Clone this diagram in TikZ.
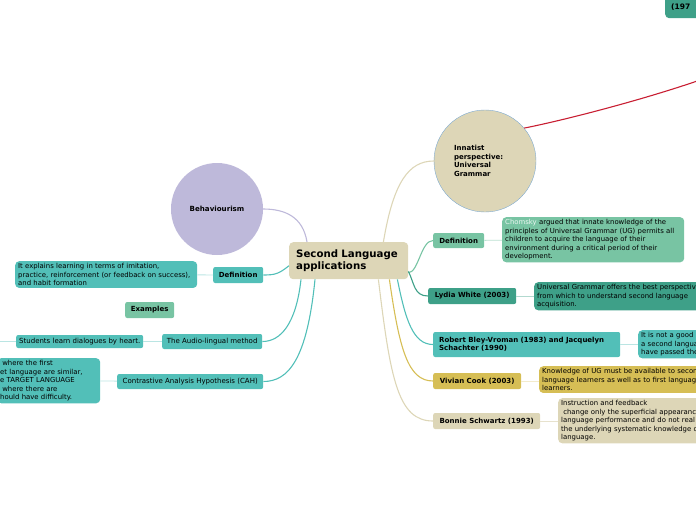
\documentclass[tikz,border=0pt]{standalone}
\usepackage{fontspec}
\setmainfont{DejaVu Sans}
\usetikzlibrary{positioning}
\definecolor{beige}{RGB}{221,214,183}
\definecolor{lavender}{RGB}{190,185,218}
\definecolor{tealc}{RGB}{82,191,184}
\definecolor{greenc}{RGB}{120,196,163}
\definecolor{dkgreen}{RGB}{62,160,136}
\definecolor{yellowc}{RGB}{214,190,85}
\definecolor{redc}{RGB}{200,30,50}
\definecolor{rimblue}{RGB}{125,170,210}
\hyphenpenalty=10000

\begin{document}
\begin{tikzpicture}[x=1pt,y=-1pt,
  lbl/.style={fill=#1,rounded corners=2pt,font=\fontsize{7}{8}\selectfont\bfseries,
              inner sep=0pt,anchor=west},
  note/.style={fill=#1,rounded corners=4pt,font=\fontsize{6.9}{8.5}\selectfont,align=left,
               anchor=north west,inner xsep=3pt,inner ysep=2.2pt},
  link/.style={draw=#1,line width=1.1pt},
  tie/.style={draw=#1,line width=0.8pt}
]
\useasboundingbox (0,0) rectangle (696,520);
\clip (0,0) rectangle (696,520);

% centre and the two theories
\node[fill=beige,rounded corners=4pt,anchor=north west,minimum width=119pt,minimum height=37pt,
      text width=105pt,inner xsep=7pt,align=left,font=\fontsize{10.2}{11.5}\selectfont\bfseries]
      (root) at (289,242) {Second Language\\applications};
\node[circle,fill=lavender,minimum size=92pt,inner sep=0pt,font=\fontsize{7.1}{8}\selectfont\bfseries]
      (behav) at (217,209) {Behaviourism};
\node[circle,fill=beige,draw=rimblue,minimum size=102pt,inner sep=0pt,text width=62pt,align=left,
      font=\fontsize{7}{8.7}\selectfont\bfseries]
      (innat) at (485,161) {Innatist\\perspective:\\Universal\\Grammar};

% behaviourism side
\node[lbl=tealc,minimum width=50pt,minimum height=16pt] (bdef) at (213,275) {Definition};
\node[note=tealc,text width=176pt] (bdeftxt) at (15,261)
  {It explains learning in terms of imitation,\\practice, reinforcement (or feedback on success),\\and habit formation};
\node[lbl=greenc,minimum width=49pt,minimum height=16pt] (examples) at (125,310) {Examples};
\node[lbl=tealc,minimum width=100pt,minimum height=15pt,font=\fontsize{7}{8}\selectfont] (audio) at (162,341.5) {The Audio-lingual method};
\node[lbl=tealc,minimum width=127pt,minimum height=13pt,font=\fontsize{7}{8}\selectfont] (students) at (16,341.5) {Students learn dialogues by heart.};
\node[lbl=tealc,minimum width=146pt,minimum height=15pt,font=\fontsize{7}{8}\selectfont] (cah) at (117,381.5) {Contrastive Analysis Hypothesis (CAH)};
\node[note=tealc,text width=97pt] (cahtxt) at (-3,358)
  {\hspace*{0.3em}where the first\\et language are similar,\\e TARGET LANGUAGE\\\hspace*{0.3em}where there are\\hould have difficulty.};
\coordinate (offl) at (-20,341.5);

% innatist side
\node[lbl=greenc,minimum width=51pt,minimum height=15pt] (idef) at (433,240.5) {Definition};
\node[note=greenc,text width=176pt] (ideftxt) at (502,217)
  {\textcolor{white!85!greenc}{Chomsky} argued that innate knowledge of the\\principles of Universal Grammar (UG) permits all\\children to acquire the language of their\\environment during a critical period of their\\development.};
\node[lbl=dkgreen,minimum width=88pt,minimum height=16pt] (white) at (428,296) {Lydia White (2003)};
\node[note=dkgreen,text width=200pt] (whitetxt) at (534,282)
  {Universal Grammar offers the best perspectiv\\from which to understand second language\\acquisition.};
\node[lbl=tealc,minimum width=187pt,minimum height=25pt,text width=175pt,inner xsep=6pt,align=left,
      font=\fontsize{7}{8}\selectfont\bfseries] (bley) at (433,344.5)
  {Robert Bley-Vroman (1983) and Jacquelyn\\Schachter (1990)};
\node[note=tealc,text width=100pt] (bleytxt) at (638,330)
  {It is not a good\\a second langua\\have passed the};
\node[lbl=yellowc,minimum width=88pt,minimum height=16pt] (cook) at (433,381) {Vivian Cook (2003)};
\node[note=yellowc,text width=200pt] (cooktxt) at (539,366)
  {Knowledge of UG must be available to secon\\language learners as well as to first languag\\learners.};
\node[lbl=beige,minimum width=107pt,minimum height=16pt] (schwartz) at (433,421) {Bonnie Schwartz (1993)};
\node[note=beige,text width=200pt] (schwartztxt) at (558,398)
  {Instruction and feedback\\\hspace*{0.3em}change only the superficial appearanc\\language performance and do not real\\the underlying systematic knowledge o\\language.};
\node[note=dkgreen,text width=40pt,inner xsep=6pt,minimum height=23pt,font=\fontsize{7.5}{8}\selectfont\bfseries]
      (topbox) at (665,-5) {(197};
\coordinate (offr) at (740,64);

% branches from the centre
\draw[link=lavender] ([xshift=18pt]root.north west) .. controls +(-4,-25) and +(22,0) .. (behav.east);
\draw[link=beige] ([xshift=-25pt]root.north east) .. controls +(10,-60) and +(-25,0) .. (innat.west);
\draw[link=tealc] ([yshift=-5pt]root.west) .. controls +(-10,8) and +(12,0) .. (bdef.east);
\draw[link=tealc] ([xshift=12pt]root.south west) .. controls +(-5,45) and +(18,0) .. (audio.east);
\draw[link=tealc] ([xshift=26pt]root.south west) .. controls +(-8,80) and +(25,0) .. (cah.east);
\draw[link=greenc] ([yshift=-12pt]root.east) .. controls +(10,0) and +(-12,0) .. (idef.west);
\draw[link=dkgreen] ([yshift=8pt]root.south east) .. controls +(6,12) and +(-14,0) .. (white.west);
\draw[link=tealc] ([xshift=-11pt]root.south east) .. controls +(8,40) and +(-20,0) .. (bley.west);
\draw[link=yellowc] ([xshift=-19pt]root.south east) .. controls +(10,70) and +(-25,0) .. (cook.west);
\draw[link=beige] ([xshift=-30pt]root.south east) .. controls +(12,100) and +(-35,0) .. (schwartz.west);
\draw[link=redc] (innat.40) .. controls +(60,-12) and +(-40,20) .. (offr);

% leaves
\draw[tie=tealc!40] (bdef) -- (bdeftxt);
\draw[tie=tealc!40] (students) -- (audio);
\draw[tie=tealc!40] (students) -- (offl);
\draw[tie=tealc!40] (cahtxt) -- (cah);
\draw[tie=greenc!50] (idef) -- (ideftxt);
\draw[tie=dkgreen!40] (white) -- (whitetxt.west|-white);
\draw[tie=tealc!40] (bley) -- (bleytxt.west|-bley);
\draw[tie=yellowc!30] (cook) -- (cooktxt.west|-cook);
\draw[tie=beige!70] (schwartz) -- (schwartztxt.west|-schwartz);
\end{tikzpicture}
\end{document}
